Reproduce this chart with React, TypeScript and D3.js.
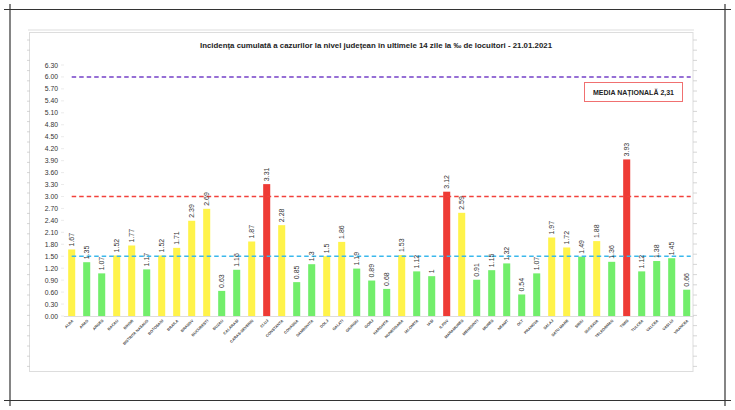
import React from "react";
import * as d3 from "d3";

const counties = [
  "ALBA","ARAD","ARGES","BACAU","BIHOR","BISTRITA NASAUD","BOTOSANI","BRAILA","BRASOV","BUCURESTI",
  "BUZAU","CALARASI","CARAS-SEVERIN","CLUJ","CONSTANTA","COVASNA","DAMBOVITA","DOLJ","GALATI","GIURGIU",
  "GORJ","HARGHITA","HUNEDOARA","IALOMITA","IASI","ILFOV","MARAMURES","MEHEDINTI","MURES","NEAMT",
  "OLT","PRAHOVA","SALAJ","SATU MARE","SIBIU","SUCEAVA","TELEORMAN","TIMIS","TULCEA","VALCEA",
  "VASLUI","VRANCEA"
];
const values = [
  1.67,1.35,1.07,1.52,1.77,1.17,1.52,1.71,2.39,2.69,
  0.63,1.16,1.87,3.31,2.28,0.85,1.3,1.5,1.86,1.19,
  0.89,0.68,1.53,1.12,1,3.12,2.59,0.91,1.15,1.32,
  0.54,1.07,1.97,1.72,1.49,1.88,1.36,3.93,1.12,1.38,
  1.45,0.66
];
const yTicks = ["0.00","0.30","0.60","0.90","1.20","1.50","1.80","2.10","2.40","2.70","3.00","3.30","3.60","3.90","4.20","4.50","4.80","5.10","5.40","5.70","6.00","6.30"];
const refLevels = [6.0, 3.0, 1.5];
const refColors = ["#7440c8", "#f2413b", "#3ab8ec"];
const title = "Incidența cumulată a cazurilor la nivel județean în ultimele 14 zile la ‰ de locuitori - 21.01.2021";
const legendText = "MEDIA NAȚIONALĂ 2,31";

const W = 735, H = 410;
const font = "'Liberation Sans', Arial, sans-serif";

export default function App() {
  const x = d3.scaleBand<string>().domain(counties).range([64.2, 694.2]).paddingInner(0.53).paddingOuter(0.265);
  const y = d3.scaleLinear().domain([0, 6.3]).range([316, 65]);
  const bw = x.bandwidth();
  const color = (v: number) => (v >= 3 ? "#ee3b35" : v >= 1.5 ? "#fff34a" : "#72ee6b");
  const firstC = (x(counties[0]) ?? 0) + bw / 2;
  const lastC = (x(counties[counties.length - 1]) ?? 0) + bw / 2;
  const rulerTicks = d3.range(40, 370, 10.2);

  return (
    <svg width={W} height={H} style={{ position: "absolute", left: 0, top: 0, background: "#fff" }} fontFamily={font}>
      {/* page frame lines */}
      <line x1={4} x2={731} y1={9.5} y2={9.5} stroke="#333" strokeWidth={1.2} />
      <line x1={4} x2={731} y1={400.5} y2={400.5} stroke="#333" strokeWidth={1.2} />
      <line x1={10} x2={10} y1={4} y2={406} stroke="#333" strokeWidth={1.2} />
      <line x1={725} x2={725} y1={4} y2={406} stroke="#333" strokeWidth={1.2} />
      {/* chart box */}
      <line x1={28} x2={694} y1={30} y2={30} stroke="#eee" strokeWidth={2} />
      <rect x={29.5} y={32.5} width={663.5} height={339} fill="none" stroke="#ddd" strokeWidth={1} />
      {rulerTicks.map((t, i) => (
        <g key={i}>
          <line x1={27} x2={30} y1={t} y2={t} stroke="#ccc" strokeWidth={0.8} />
          <line x1={693} x2={697} y1={t} y2={t} stroke="#ccc" strokeWidth={0.8} />
        </g>
      ))}
      {/* title */}
      <text x={376} y={48} textAnchor="middle" fontSize={7.6} fontWeight="bold" fill="#222" textLength={352} lengthAdjust="spacingAndGlyphs">{title}</text>
      {/* y axis labels */}
      {yTicks.map((t) => (
        <g key={t}>
          <text x={58} y={y(+t) + 2.5} textAnchor="end" fontSize={6.8} fill="#333">{t}</text>
          <line x1={61} x2={64} y1={y(+t)} y2={y(+t)} stroke="#ddd" strokeWidth={0.6} />
        </g>
      ))}
      {/* baseline */}
      <line x1={64} x2={694} y1={y(0) + 0.5} y2={y(0) + 0.5} stroke="#ddd" strokeWidth={1} />
      {/* bars */}
      {values.map((v, i) => (
        <rect key={counties[i]} x={x(counties[i])} y={y(v)} width={bw} height={y(0) - y(v)} fill={color(v)} />
      ))}
      {/* reference lines */}
      {refLevels.map((lv, i) => (
        <line key={lv} x1={firstC} x2={lastC + 4} y1={y(lv)} y2={y(lv)} stroke={refColors[i]} strokeWidth={1.6} strokeDasharray="4.5,3" />
      ))}
      {/* value labels */}
      {values.map((v, i) => {
        const cx = (x(counties[i]) ?? 0) + bw / 2;
        const ty = y(v) - 3;
        return (
          <text key={"v" + i} transform={`translate(${cx + 2.4},${ty}) rotate(-90)`} fontSize={7} fill="#333">{String(v)}</text>
        );
      })}
      {/* category labels */}
      {counties.map((c) => {
        const cx = (x(c) ?? 0) + bw / 2;
        return (
          <text key={"c" + c} transform={`translate(${cx + 2},${321}) rotate(-45)`} textAnchor="end" fontSize={3.8} fontWeight="bold" fill="#444">{c}</text>
        );
      })}
      {/* legend box */}
      <rect x={584.5} y={82.5} width={98} height={19} fill="#fff" stroke="#f07070" strokeWidth={1} />
      <text x={633.5} y={94.5} textAnchor="middle" fontSize={7} fontWeight="bold" fill="#222">{legendText}</text>
    </svg>
  );
}
